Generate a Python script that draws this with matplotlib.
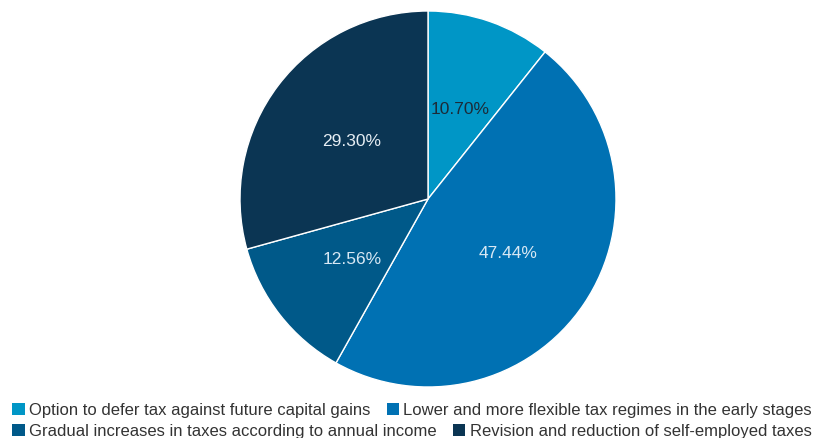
import matplotlib.pyplot as plt
from matplotlib.patches import Patch

plt.rcParams['font.family'] = ['Liberation Sans', 'DejaVu Sans']

labels = [
    "Option to defer tax against future capital gains",
    "Lower and more flexible tax regimes in the early stages",
    "Gradual increases in taxes according to annual income",
    "Revision and reduction of self-employed taxes",
]
shares = [10.70, 47.44, 12.56, 29.30]
colors = ["#0096c6", "#0071b3", "#005989", "#0b3553"]
text_colors = ["#1c2b38", "#d8e8f4", "#d8e8f4", "#e6eef4"]

fig = plt.figure(figsize=(8.26, 4.39), dpi=100)
r = 188
cx, cy = 428, 439 - 200
ax = fig.add_axes([(cx - r) / 826, (cy - r) / 439, 2 * r / 826, 2 * r / 439])

wedges, texts = ax.pie(
    shares, colors=colors, startangle=90, counterclock=False,
    labels=[f"{v:.2f}%" for v in shares], labeldistance=0.51,
    wedgeprops=dict(edgecolor="white", linewidth=1),
    textprops=dict(fontsize=12.5),
)
for t, c in zip(texts, text_colors):
    t.set_color(c)
    t.set_ha("center")
    t.set_va("center")
ax.set_xlim(-1, 1)
ax.set_ylim(-1, 1)

# the legend flows row by row, each row laid out on its own
rows = [(0, 1, 411), (2, 3, 432)]
for a, b, ypix in rows:
    leg = fig.legend([Patch(facecolor=colors[a], edgecolor="none"),
                      Patch(facecolor=colors[b], edgecolor="none")],
                     [labels[a], labels[b]], ncol=2, loc="center left",
                     bbox_to_anchor=(12 / 826, (439 - ypix) / 439),
                     frameon=False, fontsize=12, borderpad=0, borderaxespad=0,
                     handlelength=0.75, handleheight=0.75, handletextpad=0.25,
                     columnspacing=1.0, labelcolor="#333333")

fig.savefig("out.png", dpi=100)
